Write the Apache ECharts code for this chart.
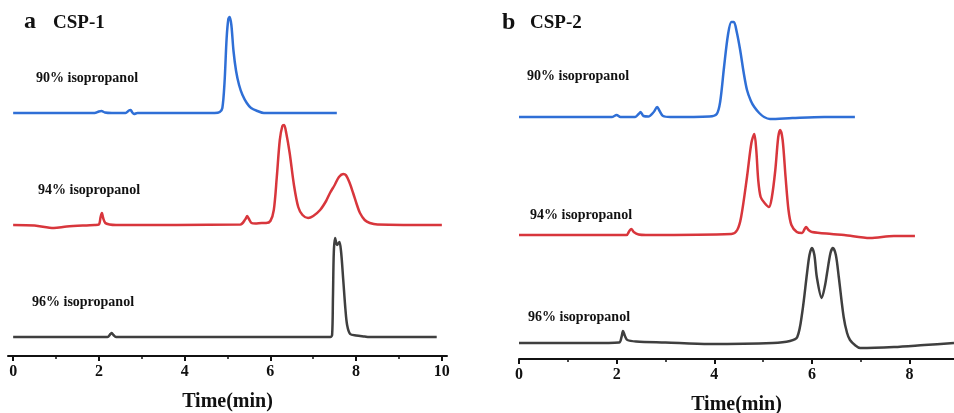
<!DOCTYPE html>
<html>
<head>
<meta charset="utf-8">
<script src="https://cdn.jsdelivr.net/npm/echarts@6/dist/echarts.min.js"></script>
<style>
    html, body {margin: 0; padding: 0; background: #fff;}
    #main {width: 954px; height: 413px;}
</style>
</head>
<body>
<div id="main"></div>
<script>
'use strict';

// 色谱数据 [时间(min), 信号强度]
let csp1_90 = [[0, 0], [1.9, 0], [2.0, 1.5], [2.06, 2], [2.14, 0.5], [2.3, 0], [2.62, 0], [2.7, 2.5], [2.74, 3], [2.78, 0.5], [2.82, -1], [2.9, 0],
    [4.7, 0], [4.82, 1], [4.88, 5], [4.93, 30], [4.98, 75], [5.02, 94], [5.05, 96], [5.09, 88], [5.14, 62], [5.2, 42], [5.27, 28],
    [5.35, 18], [5.45, 10], [5.55, 5], [5.7, 2], [5.85, 0], [7.55, 0]];
let csp1_94 = [[0, 0], [0.5, -0.5], [0.95, -3], [1.25, -1.5], [1.9, 0], [2.0, 0.5], [2.04, 8], [2.07, 12], [2.1, 7], [2.15, 2], [2.25, 0.5], [2.4, 0],
    [5.3, 0.5], [5.42, 6], [5.46, 9], [5.5, 6], [5.56, 2], [5.65, 1.5], [5.8, 2], [5.9, 2], [6.0, 4], [6.08, 15], [6.15, 48], [6.22, 85],
    [6.28, 99], [6.32, 100], [6.37, 92], [6.45, 72], [6.55, 40], [6.65, 18], [6.75, 10], [6.88, 7], [7.0, 9], [7.16, 15], [7.3, 24],
    [7.39, 32], [7.5, 40], [7.6, 48], [7.7, 51], [7.76, 50], [7.85, 42], [7.93, 32], [8.02, 20], [8.09, 12], [8.2, 5], [8.32, 2],
    [8.5, 0.5], [10, 0]];
let csp1_96 = [[0, 0], [2.2, 0], [2.27, 3], [2.3, 4], [2.34, 2], [2.4, 0], [7.4, 0], [7.44, 2], [7.46, 40], [7.48, 85], [7.51, 99],
    [7.555, 92], [7.61, 95], [7.65, 85], [7.7, 57], [7.75, 28], [7.79, 12], [7.86, 3], [8.0, 1.5], [8.2, 0.5], [8.3, 0], [9.88, 0]];

let csp2_90 = [[0, 0], [1.9, 0], [2.0, 2], [2.08, 0], [2.38, 0], [2.45, 3], [2.49, 5], [2.55, 1], [2.65, 0.5], [2.76, 5], [2.83, 10],
    [2.88, 6], [2.95, 1], [3.1, 0], [3.9, 0.5], [4.05, 3], [4.12, 15], [4.2, 50], [4.28, 82], [4.35, 95], [4.4, 95], [4.46, 85],
    [4.53, 67], [4.6, 45], [4.67, 27], [4.75, 16], [4.82, 10], [4.92, 4], [5.02, 0], [5.14, -2], [5.6, -1], [6.25, 0], [6.88, 0]];
let csp2_94 = [[0, 0], [2.2, 0], [2.26, 4], [2.3, 6], [2.35, 3], [2.45, 0.5], [2.6, 0], [4.35, 1], [4.47, 5], [4.55, 18], [4.67, 58],
    [4.76, 92], [4.82, 101], [4.86, 85], [4.9, 55], [4.95, 38], [5.03, 32], [5.12, 28], [5.18, 38], [5.25, 65], [5.31, 98],
    [5.35, 105], [5.4, 95], [5.46, 58], [5.52, 25], [5.58, 10], [5.69, 3], [5.8, 2], [5.85, 6], [5.88, 8], [5.93, 5], [6.0, 3],
    [6.4, 1], [6.66, 0], [7.19, -3], [7.68, -1], [8.11, -1]];
let csp2_96 = [[0, 0], [1.5, 0], [2.05, 0.5], [2.1, 6], [2.13, 12], [2.17, 7], [2.22, 3], [2.4, 1.5], [3, 0.5], [3.9, -1], [5.2, 0],
    [5.55, 2], [5.7, 6], [5.8, 30], [5.9, 70], [5.95, 88], [6.0, 95], [6.05, 88], [6.1, 66], [6.2, 45], [6.27, 58], [6.31, 70],
    [6.38, 90], [6.43, 95], [6.49, 88], [6.55, 66], [6.65, 26], [6.72, 10], [6.78, 3], [6.88, -2], [6.99, -5], [7.68, -4],
    [8.3, -2], [8.91, 0]];

// 刻度
let ticks1 = [0, 2, 4, 6, 8, 10];
let minor1 = [1, 3, 5, 7, 9];
let ticks2 = [0, 2, 4, 6, 8];
let minor2 = [1, 3, 5, 7];

let FONT = "'Liberation Serif', 'Times New Roman', serif";
let BLUE = '#2f6fd6', RED = '#d8363c', GRAY = '#3f3f3f';

//基线偏移(堆叠显示)
function shift(arr, off) {
    return arr.map(function (p) {
        return [p[0], p[1] + off];
    });
}

function mainAxis(grid, min, max, labels) {
    return {
        type: 'value', gridIndex: grid, min: min, max: max, position: 'bottom',
        name: 'Time(min)', nameLocation: 'middle', nameGap: 36,
        nameTextStyle: {fontFamily: FONT, fontWeight: 'bold', fontSize: 20, color: '#111'},
        axisLine: {show: true, onZero: false, lineStyle: {color: '#111', width: 2}},
        axisTick: {show: true, length: 5, customValues: labels, lineStyle: {color: '#111', width: 2}},
        axisLabel: {customValues: labels, margin: 8, fontFamily: FONT, fontWeight: 'bold', fontSize: 16, color: '#111'},
        splitLine: {show: false}
    };
}

function minorAxis(grid, min, max, vals) {
    return {
        type: 'value', gridIndex: grid, min: min, max: max, position: 'bottom',
        axisLine: {show: false},
        axisTick: {show: true, length: 3, customValues: vals, lineStyle: {color: '#111', width: 1.5}},
        axisLabel: {show: false},
        splitLine: {show: false}
    };
}

function trace(data, xi, yi, color) {
    return {
        type: 'line', xAxisIndex: xi, yAxisIndex: yi, data: data,
        showSymbol: false, smooth: 0.3,
        lineStyle: {color: color, width: 2.5}, silent: true
    };
}

function label(text, x, y, size) {
    return {
        type: 'text', x: x, y: y,
        style: {text: text, fontFamily: FONT, fontWeight: 'bold', fontSize: size, fill: '#111', verticalAlign: 'middle'}
    };
}

let myChart = echarts.init(document.getElementById('main'));
let option = {
    animation: false,
    grid: [
        {left: 8, right: 507, top: 0, bottom: 57, outerBoundsMode: 'none'},
        {left: 519, right: 0, top: 0, bottom: 54, outerBoundsMode: 'none'}
    ],
    xAxis: [
        mainAxis(0, -0.12, 10.12, ticks1),
        minorAxis(0, -0.12, 10.12, minor1),
        mainAxis(1, 0, 8.91, ticks2),
        minorAxis(1, 0, 8.91, minor2)
    ],
    yAxis: [
        {type: 'value', gridIndex: 0, min: 0, max: 356, show: false},
        {type: 'value', gridIndex: 1, min: 0, max: 359, show: false}
    ],
    series: [
        trace(shift(csp1_90, 243), 0, 0, BLUE),
        trace(shift(csp1_94, 131), 0, 0, RED),
        trace(shift(csp1_96, 19), 0, 0, GRAY),
        trace(shift(csp2_90, 242), 2, 1, BLUE),
        trace(shift(csp2_94, 124), 2, 1, RED),
        trace(shift(csp2_96, 16), 2, 1, GRAY)
    ],
    graphic: [
        label('a', 24, 22, 24),
        label('CSP-1', 53, 23, 19),
        label('b', 502, 23, 24),
        label('CSP-2', 530, 23, 19),
        label('90% isopropanol', 36, 78, 14),
        label('94% isopropanol', 38, 190, 14),
        label('96% isopropanol', 32, 302, 14),
        label('90% isopropanol', 527, 76, 14),
        label('94% isopropanol', 530, 215, 14),
        label('96% isopropanol', 528, 317, 14)
    ]
};
myChart.setOption(option);
</script>
</body>
</html>
